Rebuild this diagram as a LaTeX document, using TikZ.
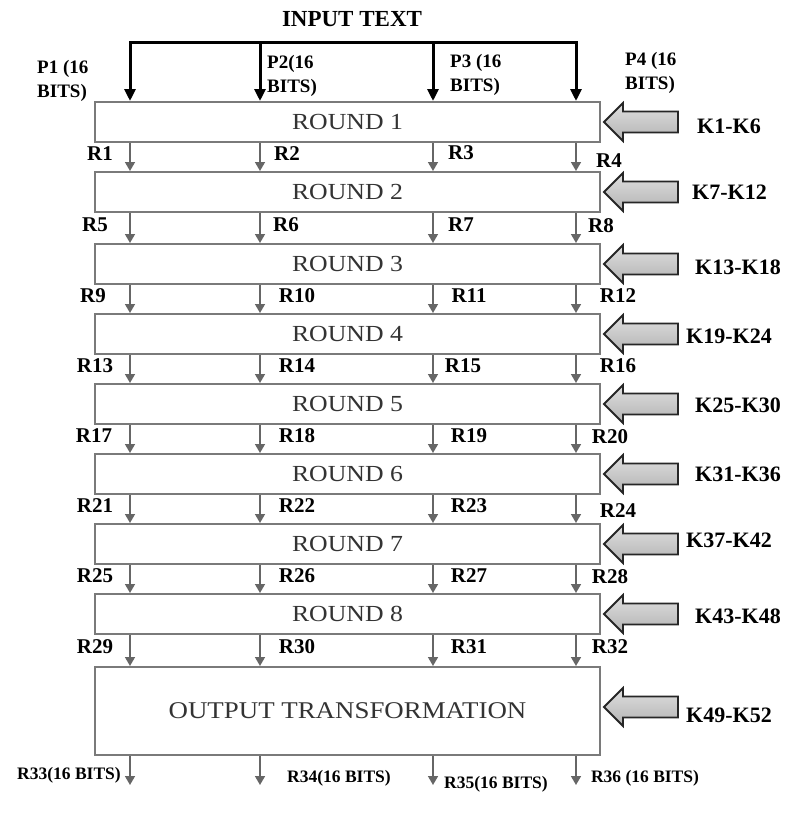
\documentclass[tikz,border=0pt]{standalone}
\usepackage{fontspec}
\setmainfont{Liberation Serif}
\newfontfamily\boxfont[FakeStretch=1.12]{Liberation Serif}
\usetikzlibrary{arrows.meta,calc}
\definecolor{boxgray}{HTML}{7A7A7A}
\definecolor{arrgray}{HTML}{666666}
\begin{document}
\begin{tikzpicture}[x=1pt,y=-1pt,
  rbox/.style={draw=boxgray, line width=2pt, fill=white, rectangle, minimum width=505pt, minimum height=40pt, inner sep=0pt, font=\boxfont\fontsize{23}{25}\selectfont, text=black!80},
  garr/.style={draw=arrgray, line width=1.6pt, -{Triangle[length=9pt,width=10pt]}},
  inarr/.style={draw=black, line width=3pt, -{Triangle[length=12pt,width=11pt]}},
  bus/.style={draw=black, line width=3pt, line cap=rect},
  karr/.style={draw=black!85, line width=1.8pt, top color=gray!25, bottom color=gray!60, line join=miter},
  rlab/.style={font=\bfseries\fontsize{21}{23}\selectfont, inner sep=0pt},
  klab/.style={font=\bfseries\fontsize{22}{24}\selectfont, inner sep=0pt, anchor=west},
  plab/.style={font=\bfseries\fontsize{19}{24}\selectfont, inner sep=0pt, anchor=north west, align=left},
  olab/.style={font=\bfseries\fontsize{17.5}{19}\selectfont, inner sep=0pt},
  ttl/.style={font=\bfseries\fontsize{23}{25}\selectfont, inner sep=0pt}
]
\useasboundingbox (0,0) rectangle (788,814);

% title and input bus
\node[ttl] (in) at (352,19) {INPUT TEXT};
\coordinate (c1) at (130,0);
\coordinate (c2) at (260,0);
\coordinate (c3) at (433,0);
\coordinate (c4) at (576,0);
\coordinate (busL) at (130,42);
\coordinate (busR) at (576,42);

% round boxes
\foreach \i/\yc in {1/122,2/192,3/264,4/334,5/404,6/474,7/544,8/614}
  \node[rbox] (b\i) at (347.5,\yc) {ROUND \i};
\node[rbox, minimum height=88pt, font=\boxfont\fontsize{24}{26}\selectfont] (b9) at (347.5,711) {OUTPUT TRANSFORMATION};

\draw[bus] (busL) -- (busR);
\foreach \c in {1,...,4}
  \draw[inarr] (c\c |- busL) -- (b1.north -| c\c);

% P labels
\node[plab] (p1) at (37,60) {P1 (16\\BITS)};
\node[plab] (p2) at (267,55) {P2(16\\BITS)};
\node[plab] (p3) at (450,54) {P3 (16\\BITS)};
\node[plab] (p4) at (625,52) {P4 (16\\BITS)};

% arrows between rounds
\foreach \i [evaluate=\i as \j using int(\i+1)] in {1,...,8}
  \foreach \c in {1,...,4}
    \draw[garr] (b\i.south -| c\c) -- (b\j.north -| c\c);

% output arrows
\foreach \c in {1,...,4} {
  \coordinate (e\c) at ($(b9.south -| c\c)+(0,29)$);
}
\foreach \c in {1,...,4}
  \draw[garr] (b9.south -| c\c) -- (e\c);

% R labels
\foreach \n/\x/\y in {R1/100/154,R2/287/154,R3/461/153,R4/609/161,
  R5/95/225,R6/286/225,R7/461/225,R8/601/226,
  R9/93/296,R10/297/296,R11/469/296,R12/618/296,
  R13/95/366,R14/297/366,R15/463/366,R16/618/366,
  R17/94/436,R18/297/436,R19/469/436,R20/610/437,
  R21/95/506,R22/297/506,R23/469/506,R24/618/511,
  R25/95/576,R26/297/576,R27/469/576,R28/610/577,
  R29/95/647,R30/297/647,R31/469/647,R32/610/647}
  \node[rlab] (l\n) at (\x,\y) {\n};

% output labels
\node[olab] (o1) at (69,775) {R33(16 BITS)};
\node[olab] (o2) at (339,778) {R34(16 BITS)};
\node[olab] (o3) at (496,784) {R35(16 BITS)};
\node[olab] (o4) at (645,778) {R36 (16 BITS)};

% key arrows
\foreach \i/\dy in {1/0,2/0,3/0,4/0,5/0,6/0,7/0,8/0,9/4}
  \draw[karr] ([xshift=3pt,yshift=\dy pt]b\i.east) -- ++(19,-19) -- ++(0,8.5) -- ++(55,0) -- ++(0,21) -- ++(-55,0) -- ++(0,8.5) -- cycle;

% key labels
\node[klab] (k1) at (697,126) {K1-K6};
\node[klab] (k2) at (692,192) {K7-K12};
\node[klab] (k3) at (695,267) {K13-K18};
\node[klab] (k4) at (686,336) {K19-K24};
\node[klab] (k5) at (695,405) {K25-K30};
\node[klab] (k6) at (695,474) {K31-K36};
\node[klab] (k7) at (686,540) {K37-K42};
\node[klab] (k8) at (695,616) {K43-K48};
\node[klab] (k9) at (686,715) {K49-K52};
\end{tikzpicture}
\end{document}
